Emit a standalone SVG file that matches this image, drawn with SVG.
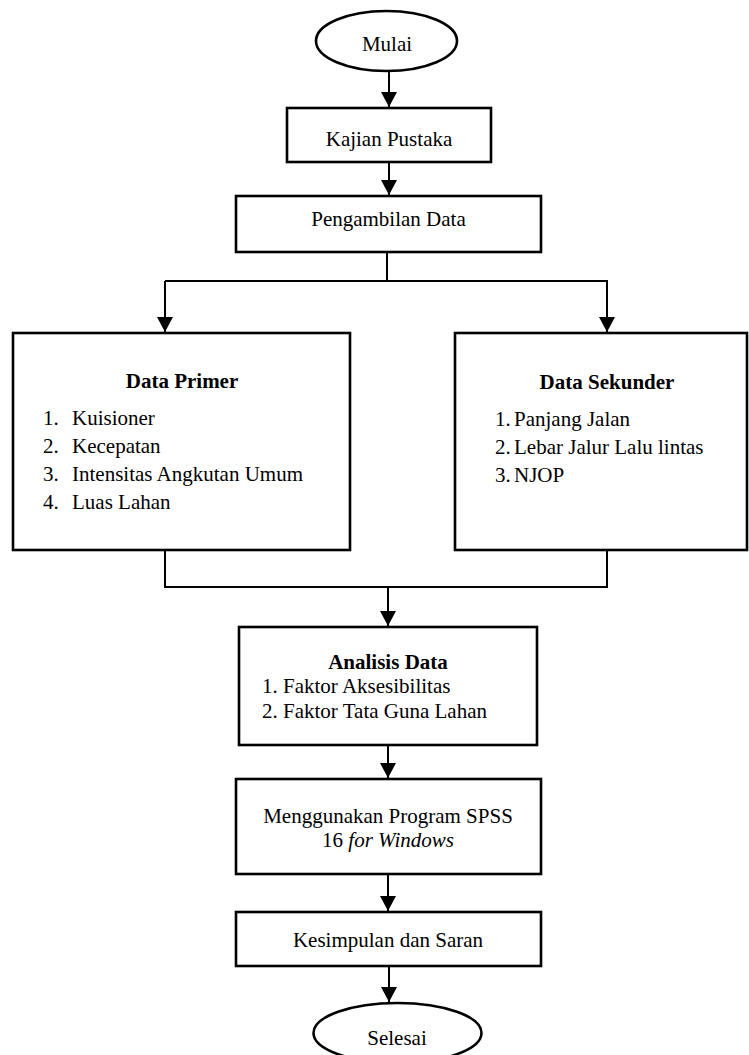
<svg xmlns="http://www.w3.org/2000/svg" width="749" height="1055" viewBox="0 0 749 1055">
<style>
.box{fill:#fff;stroke:#000;stroke-width:2.6}
.ln{fill:none;stroke:#000;stroke-width:2}
</style>
<defs>
<marker id="ah" markerUnits="userSpaceOnUse" markerWidth="16" markerHeight="18" refX="15" refY="8" orient="auto">
<path d="M0,0 L15,8 L0,16 Z" fill="#000"/>
</marker>
</defs>
<rect width="749" height="1055" fill="#fff"/>
<g id="connectors">
<line class="ln" x1="389" y1="71" x2="389" y2="107" marker-end="url(#ah)"/>
<line class="ln" x1="389" y1="162" x2="389" y2="195" marker-end="url(#ah)"/>
<polyline class="ln" points="387,252 387,281"/>
<polyline class="ln" points="165,281 607,281 607,332" marker-end="url(#ah)"/>
<line class="ln" x1="165" y1="281" x2="165" y2="332" marker-end="url(#ah)"/>
<polyline class="ln" points="165,550 165,587 607,587 607,550"/>
<line class="ln" x1="388" y1="587" x2="388" y2="626" marker-end="url(#ah)"/>
<line class="ln" x1="388" y1="745" x2="388" y2="778" marker-end="url(#ah)"/>
<line class="ln" x1="388" y1="874" x2="388" y2="911" marker-end="url(#ah)"/>
<line class="ln" x1="389" y1="966" x2="389" y2="1002" marker-end="url(#ah)"/>
</g>
<g font-family="Liberation Serif, Times New Roman, serif" font-size="21" fill="#000">
<g id="mulai">
<ellipse class="box" cx="386.5" cy="41" rx="70.5" ry="30"/>
<text x="387" y="51" text-anchor="middle">Mulai</text>
</g>
<g id="kajian">
<rect class="box" x="287" y="108" width="204" height="54"/>
<text x="389" y="146" text-anchor="middle">Kajian Pustaka</text>
</g>
<g id="pengambilan">
<rect class="box" x="236" y="196" width="305" height="56"/>
<text x="388.5" y="226" text-anchor="middle">Pengambilan Data</text>
</g>
<g id="primer">
<rect class="box" x="13" y="333" width="337" height="217"/>
<text x="182" y="388" font-weight="bold" text-anchor="middle">Data Primer</text>
<text x="43" y="425">1.</text><text x="72" y="425">Kuisioner</text>
<text x="43" y="453">2.</text><text x="72" y="453">Kecepatan</text>
<text x="43" y="481">3.</text><text x="72" y="481">Intensitas Angkutan Umum</text>
<text x="43" y="509">4.</text><text x="72" y="509">Luas Lahan</text>
</g>
<g id="sekunder">
<rect class="box" x="455" y="333" width="292" height="217"/>
<text x="607" y="389" font-weight="bold" text-anchor="middle">Data Sekunder</text>
<text x="495" y="426">1.</text><text x="514" y="426">Panjang Jalan</text>
<text x="495" y="454">2.</text><text x="514" y="454">Lebar Jalur Lalu lintas</text>
<text x="495" y="482">3.</text><text x="514" y="482">NJOP</text>
</g>
<g id="analisis">
<rect class="box" x="239" y="627" width="298" height="118"/>
<text x="388" y="669" font-weight="bold" text-anchor="middle">Analisis Data</text>
<text x="262" y="693">1. Faktor Aksesibilitas</text>
<text x="262" y="718">2. Faktor Tata Guna Lahan</text>
</g>
<g id="spss">
<rect class="box" x="236" y="779" width="305" height="95"/>
<text x="388" y="823" text-anchor="middle">Menggunakan Program SPSS</text>
<text x="388" y="847" text-anchor="middle">16 <tspan font-style="italic">for Windows</tspan></text>
</g>
<g id="kesimpulan">
<rect class="box" x="236" y="912" width="305" height="54"/>
<text x="388" y="947" text-anchor="middle">Kesimpulan dan Saran</text>
</g>
<g id="selesai">
<ellipse class="box" cx="397.5" cy="1033" rx="84" ry="30"/>
<text x="397" y="1045" text-anchor="middle">Selesai</text>
</g>
</g>
</svg>
